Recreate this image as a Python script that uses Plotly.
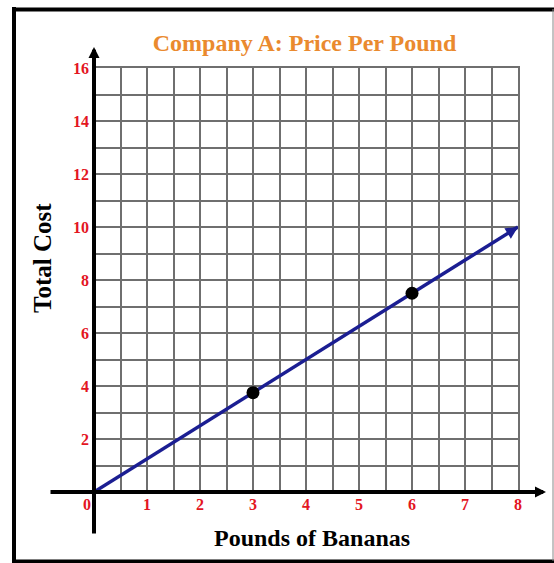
import plotly.graph_objects as go

# ---- data ----
line_x = [0, 8]
line_y = [0, 10]
point_x = [3, 6]
point_y = [3.75, 7.5]
x_ticks = [1, 2, 3, 4, 5, 6, 7, 8]
y_ticks = [2, 4, 6, 8, 10, 12, 14, 16]
title_text = "Company A: Price Per Pound"
x_title = "Pounds of Bananas"
y_title = "Total Cost"

W, H = 554, 563
L, R, T, B = 94, 36, 68, 71
PW, PH = W - L - R, H - T - B

def px(xp):
    return (xp - L) / PW

def py(yp):
    return (H - B - yp) / PH

SERIF = "Liberation Serif, Times New Roman, serif"
RED = "#E3161F"
NAVY = "#1B1E92"
GRID = "#6f6f6f"

fig = go.Figure()
fig.add_trace(go.Scatter(
    x=line_x, y=line_y, mode="lines",
    line=dict(color=NAVY, width=3.5),
    hoverinfo="skip", cliponaxis=False))
fig.add_trace(go.Scatter(
    x=point_x, y=point_y, mode="markers",
    marker=dict(symbol="circle", size=13, color="black"),
    cliponaxis=False))

axis_common = dict(showline=True, mirror=True, linecolor=GRID, linewidth=1.5,
                   zeroline=False, showgrid=True, gridcolor=GRID, gridwidth=1.5,
                   ticks="", fixedrange=True,
                   tickfont=dict(family=SERIF, size=16, color=RED, weight="bold"))
fig.update_xaxes(range=[0, 8], tickmode="array", tickvals=x_ticks,
                 ticktext=[str(v) for v in x_ticks], ticklabelstandoff=-3,
                 minor=dict(dtick=0.5, showgrid=True, gridcolor=GRID, gridwidth=1.5),
                 **axis_common)
fig.update_yaxes(range=[0, 16], tickmode="array", tickvals=y_ticks,
                 ticktext=[str(v) for v in y_ticks],
                 minor=dict(dtick=1, showgrid=True, gridcolor=GRID, gridwidth=1.5),
                 **axis_common)

# direction of the data line in pixels, for the arrowhead at its end
dxp = (line_x[-1] - line_x[-2]) / 8 * PW
dyp = (line_y[-1] - line_y[-2]) / 16 * PH
norm = (dxp ** 2 + dyp ** 2) ** 0.5

annotations = [
    # y axis with arrow
    dict(x=0, y=py(47), xref="paper", yref="paper", ax=0, ay=535 - 47,
         text="", showarrow=True, arrowhead=2, arrowsize=0.55, arrowwidth=4, arrowcolor="black"),
    # x axis with arrow
    dict(x=px(546), y=0, xref="paper", yref="paper", ax=49 - 546, ay=0,
         text="", showarrow=True, arrowhead=2, arrowsize=0.55, arrowwidth=4, arrowcolor="black"),
    # arrowhead at the end of the data line
    dict(x=line_x[-1], y=line_y[-1], xref="x", yref="y",
         ax=-14 * dxp / norm, ay=14 * dyp / norm,
         text="", showarrow=True, arrowhead=2, arrowsize=0.7, arrowwidth=3.5, arrowcolor=NAVY),
    # origin label
    dict(x=px(87), y=py(504), xref="paper", yref="paper", text="0", showarrow=False,
         xanchor="center", yanchor="middle",
         font=dict(family=SERIF, size=16, color=RED, weight="bold")),
    dict(x=px(42), y=py(258), xref="paper", yref="paper", text=y_title, textangle=-90,
         xanchor="center", yanchor="middle",
         showarrow=False, font=dict(family=SERIF, size=25, color="black", weight="bold")),
    dict(x=px(312), y=py(538), xref="paper", yref="paper", text=x_title,
         xanchor="center", yanchor="middle",
         showarrow=False, font=dict(family=SERIF, size=24, color="black", weight="bold")),
]

shapes = [
    dict(type="line", xref="paper", yref="paper", x0=px(14), x1=px(14), y0=py(7), y1=py(563),
         line=dict(color="black", width=4)),
    dict(type="line", xref="paper", yref="paper", x0=px(12), x1=px(554), y0=py(9.5), y1=py(9.5),
         line=dict(color="black", width=4)),
    dict(type="line", xref="paper", yref="paper", x0=px(12), x1=px(554), y0=py(561.5), y1=py(561.5),
         line=dict(color="black", width=4)),
    dict(type="line", xref="paper", yref="paper", x0=px(553), x1=px(553), y0=py(9), y1=py(561),
         line=dict(color="#888888", width=1)),
]

fig.update_layout(
    width=W, height=H, margin=dict(l=L, r=R, t=T, b=B),
    paper_bgcolor="white", plot_bgcolor="white", showlegend=False,
    title=dict(text=title_text, xref="paper", x=px(304.5), xanchor="center",
               yref="container", y=1 - 43 / H, yanchor="middle",
               font=dict(family=SERIF, size=24, color="#EA8A2E", weight="bold")),
    annotations=annotations, shapes=shapes,
)

fig.write_html("out.html", config={"displayModeBar": False},
               post_script="document.body.style.margin='0';document.body.style.overflow='hidden';")
